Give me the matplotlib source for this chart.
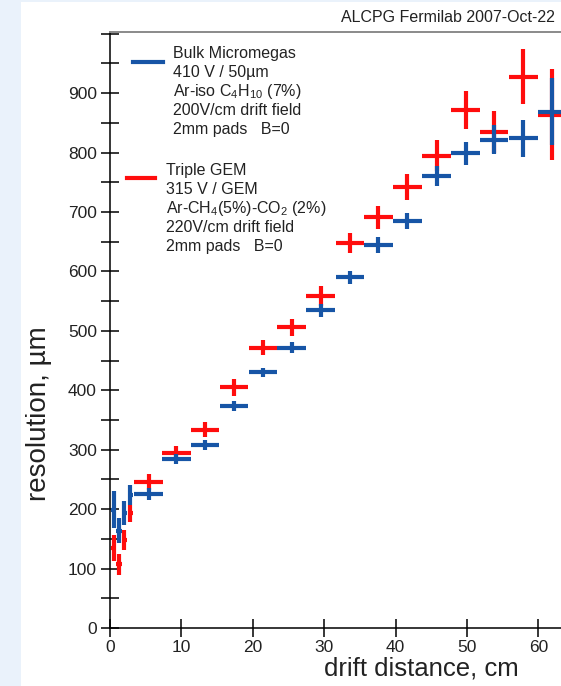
import matplotlib
matplotlib.use("Agg")
import matplotlib.pyplot as plt
from matplotlib.patches import Rectangle
from matplotlib.lines import Line2D
from matplotlib.ticker import MultipleLocator

plt.rcParams['font.family'] = ['Liberation Sans', 'DejaVu Sans']
plt.rcParams['mathtext.fontset'] = 'custom'
plt.rcParams['mathtext.rm'] = 'Liberation Sans'
plt.rcParams['mathtext.default'] = 'regular'

# ---- данные ----
# мелкие бины у катода
x_near = [0.5, 1.25, 2.0, 2.85]
x_near_err = [0.375, 0.375, 0.375, 0.375]
mm_near = [199, 164, 193, 224]
mm_near_err = [31, 21, 20, 17]
gem_near = [135, 107, 148, 193]
gem_near_err = [22, 18, 17, 14]

# основные бины шириной 4 см
x_main = [5.4, 9.3, 13.3, 17.35, 21.4, 25.45, 29.5, 33.6, 37.6, 41.65,
          45.75, 49.8, 53.8, 57.9, 61.9]
x_main_err = [2.0] * len(x_main)
mm_res = [226, 284, 308, 374, 430, 472, 535, 590, 645, 685,
          761, 799, 822, 824, 869]
mm_err = [10, 8, 8, 8, 8, 9, 11, 11.5, 13.5, 13,
          17, 19.5, 24, 31, 56]
gem_res = [246, 295, 334, 405, 472, 506, 559, 648, 691, 742,
           795, 872, 835, 928, 864]
gem_err = [13, 10.5, 12.5, 14, 12, 14, 17, 17.5, 19, 22,
           26, 32, 35, 46, 76]

mm_label = ["Bulk Micromegas", "410 V / 50\u00b5m", "Ar-iso C$_4$H$_{10}$ (7%)",
            "200V/cm drift field", "2mm pads   B=0"]
gem_label = ["Triple GEM", "315 V / GEM", "Ar-CH$_4$(5%)-CO$_2$ (2%)",
             "220V/cm drift field", "2mm pads   B=0"]

BLUE = "#1755a6"
RED = "#ff0d0d"
W, H = 561, 686


def fx(px):
    return px / W


def fy(py):
    return 1 - py / H


fig = plt.figure(figsize=(5.61, 6.86), dpi=100, facecolor="#eaf2fb")
fig.patches.append(Rectangle((fx(21), 0), 1, fy(2), transform=fig.transFigure,
                             facecolor="white", edgecolor="none", zorder=-5))

ax = fig.add_axes([fx(110), 58 / H, 451 / W, 596 / H])
ax.set_xlim(0, 63.17)
ax.set_ylim(0, 1003)

# сначала GEM, поверх Micromegas
for xs, xe, ys, ye, c in [(x_near, x_near_err, gem_near, gem_near_err, RED),
                          (x_main, x_main_err, gem_res, gem_err, RED),
                          (x_near, x_near_err, mm_near, mm_near_err, BLUE),
                          (x_main, x_main_err, mm_res, mm_err, BLUE)]:
    ax.errorbar(xs, ys, xerr=xe, yerr=ye, fmt='none', ecolor=c,
                elinewidth=3, capsize=0)

ax.spines['right'].set_visible(False)
ax.spines['top'].set_color("#8a8a8a")
ax.spines['top'].set_linewidth(1.4)
ax.spines['left'].set_linewidth(1.1)
ax.spines['bottom'].set_linewidth(1.1)

ax.xaxis.set_major_locator(MultipleLocator(10))
ax.yaxis.set_major_locator(MultipleLocator(100))
ax.yaxis.set_minor_locator(MultipleLocator(50))
ax.set_yticks(range(0, 1000, 100))
ax.tick_params(which='both', direction='inout', length=13, width=1.1,
               labelsize=12.5, labelcolor="#222222", top=False, right=False)
ax.tick_params(axis='y', pad=3)
ax.tick_params(axis='x', pad=2)

ax.set_xlabel("drift distance, cm", fontsize=18.5, color="#222222")
ax.xaxis.set_label_coords(0.69, -0.047)
ax.set_ylabel("resolution, \u00b5m", fontsize=20, color="#222222")
ax.yaxis.set_label_coords(-0.128, 0.36)

fig.text(fx(555), fy(18), "ALCPG Fermilab 2007-Oct-22", ha='right', va='center',
         fontsize=11.5, color="#222222")

# самодельная легенда
fig.add_artist(Line2D([fx(133), fx(163)], [fy(62), fy(62)], color=BLUE, lw=3))
fig.add_artist(Line2D([fx(127), fx(155)], [fy(178), fy(178)], color=RED, lw=3))
for i, s in enumerate(mm_label):
    fig.text(fx(173), fy(58 + 19 * i), s, ha='left', va='baseline',
             fontsize=11.5, color="#222222")
for i, s in enumerate(gem_label):
    fig.text(fx(166), fy(175 + 19 * i), s, ha='left', va='baseline',
             fontsize=11.5, color="#222222")

fig.savefig("out.png", dpi=100, facecolor=fig.get_facecolor())
